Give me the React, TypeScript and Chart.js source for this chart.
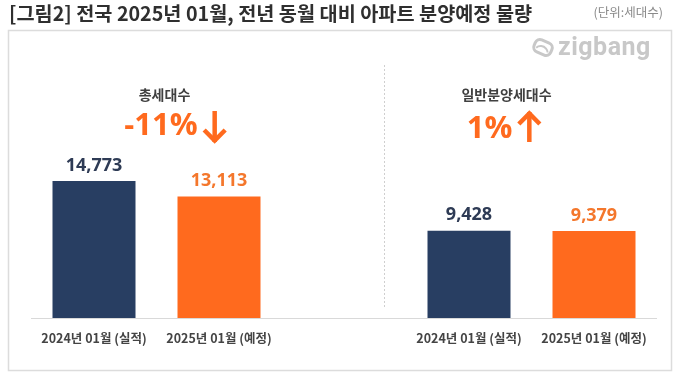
import React, { useEffect, useRef } from "react";
import { Chart, registerables } from "chart.js";

Chart.register(...registerables);

const categories = ["2024년 01월 (실적)", "2025년 01월 (예정)", "", "2024년 01월 (실적)", "2025년 01월 (예정)"];
const values = [14773, 13113, null, 9428, 9379];
const barColors = ["#283E62", "#FF6A1E", "#FFFFFF", "#283E62", "#FF6A1E"];
const labelColors = ["#2E3B55", "#F4772C", "#FFFFFF", "#2E3B55", "#F4772C"];
const titleText = "[그림2] 전국 2025년 01월, 전년 동월 대비 아파트 분양예정 물량";
const unitText = "(단위:세대수)";
const groupTitles = ["총세대수", "일반분양세대수"];
const groupChanges = ["-11%", "1%"];
const groupDirections = ["down", "up"];

const KR = '"Noto Sans CJK KR", "Noto Sans", sans-serif';
const NUM = '"Open Sans", "Noto Sans", sans-serif';
const ORANGE = "#FF6A1E";

function drawArrow(ctx: CanvasRenderingContext2D, cx: number, top: number, bottom: number, dir: string) {
  ctx.save();
  ctx.strokeStyle = ORANGE;
  ctx.lineWidth = 4.5;
  ctx.lineCap = "butt";
  ctx.lineJoin = "miter";
  ctx.beginPath();
  ctx.moveTo(cx, top);
  ctx.lineTo(cx, bottom);
  ctx.stroke();
  ctx.beginPath();
  const hw = 10.5;
  if (dir === "down") {
    const tip = bottom - 1.5;
    ctx.moveTo(cx - hw, tip - hw);
    ctx.lineTo(cx, tip);
    ctx.lineTo(cx + hw, tip - hw);
  } else {
    const tip = top + 1.5;
    ctx.moveTo(cx - hw, tip + hw);
    ctx.lineTo(cx, tip);
    ctx.lineTo(cx + hw, tip + hw);
  }
  ctx.stroke();
  ctx.restore();
}

const decor = {
  id: "decor",
  beforeDraw(chart: any) {
    const ctx = chart.ctx;
    ctx.save();
    ctx.fillStyle = "#ffffff";
    ctx.fillRect(0, 0, chart.width, chart.height);
    ctx.strokeStyle = "#dcdcdc";
    ctx.lineWidth = 1.5;
    ctx.strokeRect(8.5, 30.5, 663, 340);
    ctx.restore();
  },
  afterDraw(chart: any) {
    const ctx = chart.ctx;
    const xs = chart.scales.x;
    ctx.save();
    // title
    ctx.fillStyle = "#2f2f2f";
    ctx.font = `bold 19.7px ${KR}`;
    ctx.textBaseline = "middle";
    ctx.textAlign = "left";
    ctx.fillText(titleText, 9, 14);
    ctx.fillStyle = "#8a8a8a";
    ctx.font = `12.5px ${KR}`;
    ctx.textAlign = "right";
    ctx.fillText(unitText, 663, 12);

    // logo
    ctx.save();
    ctx.fillStyle = "#c8c8c8";
    ctx.font = `bold 25px Roboto, sans-serif`;
    (ctx as any).letterSpacing = "0.5px";
    ctx.textAlign = "left";
    ctx.textBaseline = "alphabetic";
    ctx.fillText("zigbang", 558, 55);
    ctx.restore();
    ctx.save();
    ctx.translate(543, 47.5);
    ctx.rotate(0.4);
    ctx.strokeStyle = "#c8c8c8";
    ctx.lineWidth = 3;
    ctx.beginPath();
    (ctx as any).roundRect(-9, -6.5, 18, 13, 5);
    ctx.stroke();
    ctx.lineWidth = 2;
    ctx.beginPath();
    ctx.arc(0, 6, 7, Math.PI * 1.15, Math.PI * 1.85);
    ctx.stroke();
    ctx.restore();

    // divider
    ctx.strokeStyle = "#cfcfcf";
    ctx.lineWidth = 1;
    ctx.setLineDash([2, 2]);
    ctx.beginPath();
    const dx = Math.round(xs.getPixelForValue(2.32)) + 0.5;
    ctx.moveTo(dx, 65);
    ctx.lineTo(dx, 308);
    ctx.stroke();
    ctx.setLineDash([]);

    // group headings
    const headCenters = [xs.getPixelForValue(0.5) + 8, xs.getPixelForValue(3.5) - 25];
    const changeCenters = [xs.getPixelForValue(0.5) + 19, xs.getPixelForValue(3.5) - 27.5];
    const baselines = [135, 138];
    const arrowTops = [111, 112];
    headCenters.forEach((cx, i) => {
      ctx.fillStyle = "#404040";
      ctx.font = `bold 14px ${KR}`;
      ctx.textAlign = "center";
      ctx.textBaseline = "middle";
      ctx.fillText(groupTitles[i], cx, 95);
      ctx.font = `bold 31px ${NUM}`;
      const w = ctx.measureText(groupChanges[i]).width;
      const aw = 24;
      const gap = 5;
      const left = changeCenters[i] - (w + gap + aw) / 2;
      ctx.fillStyle = ORANGE;
      ctx.textAlign = "left";
      ctx.textBaseline = "alphabetic";
      ctx.fillText(groupChanges[i], left, baselines[i]);
      drawArrow(ctx, left + w + gap + aw / 2, arrowTops[i], 142, groupDirections[i]);
    });

    // value labels
    const meta = chart.getDatasetMeta(0);
    meta.data.forEach((bar: any, i: number) => {
      const v = values[i];
      if (v == null) return;
      ctx.fillStyle = labelColors[i];
      ctx.font = `bold 18px ${NUM}`;
      ctx.textAlign = "center";
      ctx.textBaseline = "alphabetic";
      ctx.fillText(v.toLocaleString("en-US"), bar.x, bar.y - 10.5);
    });
    ctx.restore();
  },
};

export default function App() {
  const ref = useRef<HTMLCanvasElement | null>(null);
  useEffect(() => {
    if (!ref.current) return;
    const chart = new Chart(ref.current, {
      type: "bar",
      data: {
        labels: categories,
        datasets: [
          {
            data: values as any,
            backgroundColor: barColors,
            borderWidth: 0,
            barPercentage: 1,
            categoryPercentage: 0.664,
          },
        ],
      },
      options: {
        animation: false,
        responsive: false,
        devicePixelRatio: 1,
        layout: { padding: { top: 40, left: 31.5, right: 23.5, bottom: 0 } },
        plugins: { legend: { display: false }, tooltip: { enabled: false }, title: { display: false } },
        scales: {
          x: {
            grid: { display: false, drawTicks: false },
            border: { display: true, color: "#d9d9d9", width: 1 },
            ticks: {
              color: "#444444",
              font: { family: KR, size: 12.5, weight: "bold" },
              padding: 13,
              maxRotation: 0,
              autoSkip: false,
            },
            afterFit: (s: any) => {
              s.height = 60;
            },
          },
          y: { display: false, min: 0, max: 30000 },
        },
      },
      plugins: [decor],
    });
    return () => chart.destroy();
  }, []);
  return (
    <div style={{ position: "fixed", left: 0, top: 0, width: 680, height: 378, background: "#fff" }}>
      <canvas ref={ref} width={680} height={378} />
    </div>
  );
}
